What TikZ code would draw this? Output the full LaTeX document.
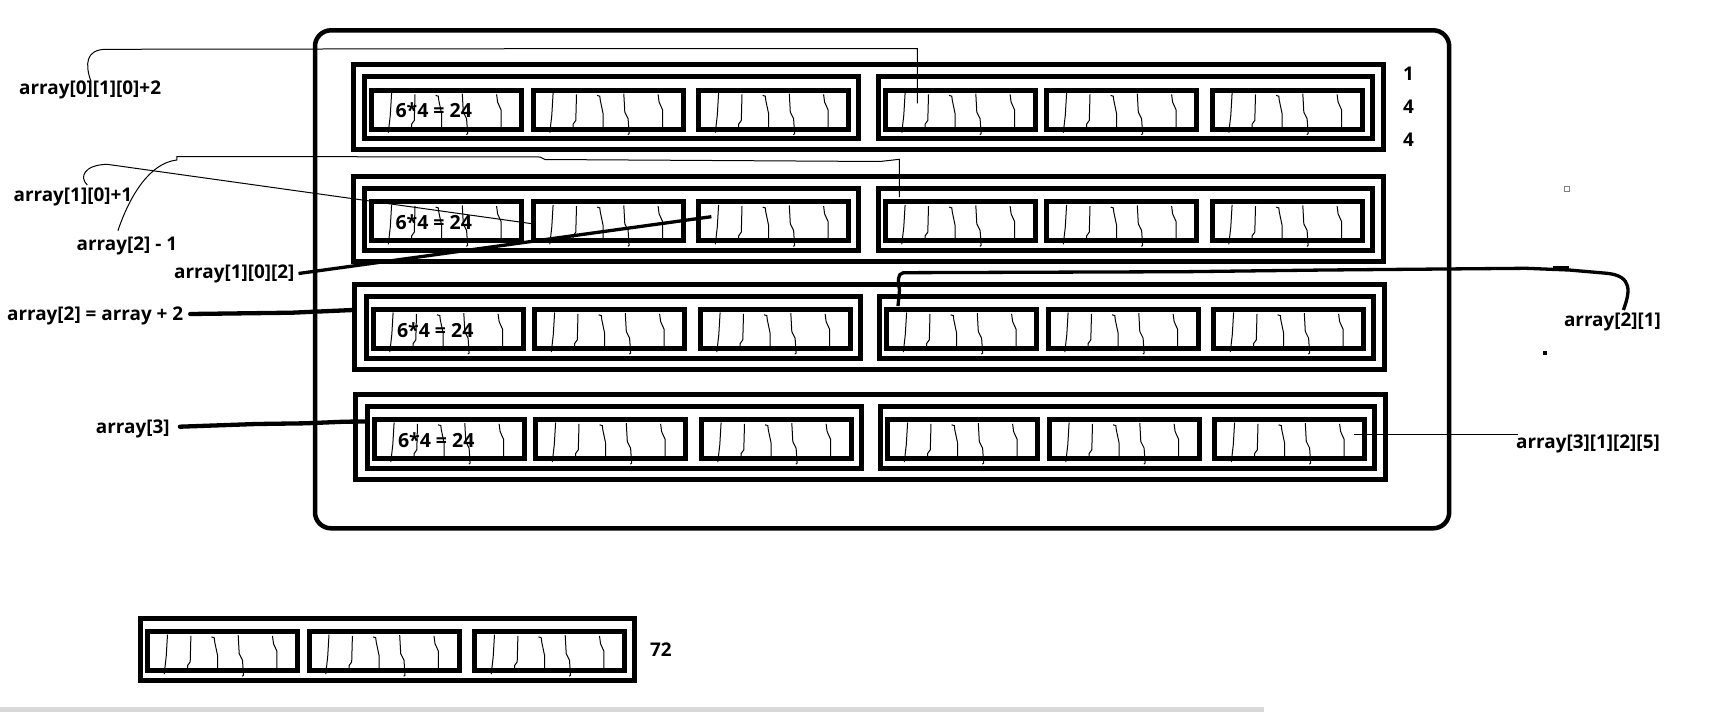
\documentclass[tikz,border=0pt]{standalone}
\usepackage{fontspec}
\setmainfont{Open Sans}
\begin{document}
\tikzset{
 boxline/.style={line width=5pt},
 hatch/.style={line width=1pt},
 thinconn/.style={line width=1pt},
 thickconn/.style={line width=3.3pt},
 heavyconn/.style={line width=4.3pt, line cap=round},
 lbl/.style={font=\bfseries\fontsize{18.9}{22}\selectfont, inner sep=0pt, anchor=base west},
 celltext/.style={font=\bfseries\fontsize{19.5}{22}\selectfont, inner sep=0pt, anchor=base west},
}
\newcommand\lvthree[2]{%
 \begin{scope}[shift={(#1,#2)}]
 \draw[boxline] (0,0) rectangle (150,39);
 \draw[hatch] (19.8,2.9) -- (18.5,25) -- (16.5,42.5);
 \draw[hatch] (43.2,4.2) -- (42.5,30.2) -- (39.8,34) -- (39.8,37);
 \draw[hatch] (63.8,5.2) -- (66.5,6) -- (67,10.2) -- (69.8,23.5) -- (69.8,37);
 \draw[hatch] (90.5,3.5) -- (91.5,21.9) -- (94.8,28.5) -- (95.8,43.5) -- (94.5,44.5);
 \draw[hatch] (124.8,4.2) -- (125.8,11.9) -- (129.2,19.5) -- (129.2,37);
 \end{scope}}
\newcommand\lvtwo[2]{%
 \begin{scope}[shift={(#1,#2)}]
 \draw[boxline] (0,0) rectangle (494,62);
 \lvthree{7}{13.4}\lvthree{168.5}{13.4}\lvthree{334}{13.4}
 \end{scope}}
\newcommand\lvone[3]{%
 \begin{scope}[shift={(#1,#2)}]
 \draw[boxline] (0,0) rectangle (1030,85);
 \lvtwo{11.5}{12}\lvtwo{525}{12}
 \node[celltext] (#3) at (42,52.9) {6*4 = 24};
 \end{scope}}
\begin{tikzpicture}[x=1pt,y=-1pt]
\useasboundingbox (0,0) rectangle (1709,712);
\fill[white] (0,0) rectangle (1709,712);
% outer frame
\draw[line width=4.5pt, rounded corners=16pt] (315,30.3) rectangle (1449.2,528.3);
% rows
\lvone{353.3}{64.8}{t1}
\lvone{353.3}{176.5}{t2}
\lvone{354.8}{284.2}{t3}
\lvone{355.8}{394.2}{t4}
% bottom box
\lvtwo{140.7}{618.3}
% labels
\node[lbl] (a0) at (19,94) {array[0][1][0]+2};
\node[lbl] (a1) at (13.4,201.7) {array[1][0]+1};
\node[lbl] (a2m) at (76.5,250) {array[2] - 1};
\node[lbl] (a102) at (174,278.7) {array[1][0][2]};
\node[lbl] (a2eq) at (6.9,320) {array[2] = array + 2};
\node[lbl] (a3) at (95.7,433.3) {array[3]};
\node[lbl] (a21) at (1563.8,326.7) {array[2][1]};
\node[lbl] (a3125) at (1516,448.3) {array[3][1][2][5]};
\node[lbl] (n1) at (1403,80) {1};
\node[lbl] (n2) at (1403,113.3) {4};
\node[lbl] (n3) at (1403,146) {4};
\node[lbl] (n72) at (650,656.7) {72};
% connector end points
\coordinate (c0s) at (90.7,80.7);
\coordinate (c0e) at (917.4,103.3);
\coordinate (c1s) at (87.3,185);
\coordinate (c1e) at (534,224);
\coordinate (c2s) at (117.9,230.7);
\coordinate (c2e) at (899.4,197);
\coordinate (c3s) at (298.5,273.5);
\coordinate (c3e) at (711.4,216.7);
\coordinate (c4s) at (190.2,314);
\coordinate (c4e) at (353,310);
\coordinate (c5s) at (179.9,426.7);
\coordinate (c5e) at (366,421.5);
\coordinate (c6s) at (1623.4,310);
\coordinate (c6e) at (898,306);
\coordinate (c7s) at (1517.8,434);
\coordinate (c7e) at (1354,434);
% connectors
\draw[thinconn] (c0s) .. controls (85,64) and (86,50) .. (105,49.3) -- (540,48.7) -- (917.4,48.5) -- (c0e);
\draw[thinconn] (c1s) .. controls (79,177) and (84,165) .. (107,164.3) -- (c1e);
\draw[thinconn] (c2s) .. controls (130,195) and (150,163) .. (176.8,160) -- (176.8,156.5) -- (540,157) -- (545,159.5) -- (880,161.5) -- (899.4,159.3) -- (c2e);
\draw[thickconn] (c3s) -- (c3e);
\draw[heavyconn] (c4s) -- (292,312.7) -- (c4e);
\draw[heavyconn] (c5s) -- (256.4,424) -- (306,423.3) -- (344.4,421.7) -- (c5e);
\draw[thickconn] (c6s) .. controls (1630,292) and (1633,276) .. (1607,273.3) -- (1569,270) -- (1526,268.3) -- (1325.6,270) -- (1184.8,271.7) -- (903.3,272.7) .. controls (897,274) and (898,281) .. (899.5,290) -- (c6e);
\fill (1553,266.3) rectangle (1569,270.8);
\draw[thinconn] (c7e) -- (c7s);
% stray marks
\draw[line width=0.8pt, gray] (1564,186) rectangle (1569,191);
\fill (1543,351) rectangle (1546.5,354.5);
\fill[gray!30] (0,707) rectangle (1264,712);
\end{tikzpicture}
\end{document}
